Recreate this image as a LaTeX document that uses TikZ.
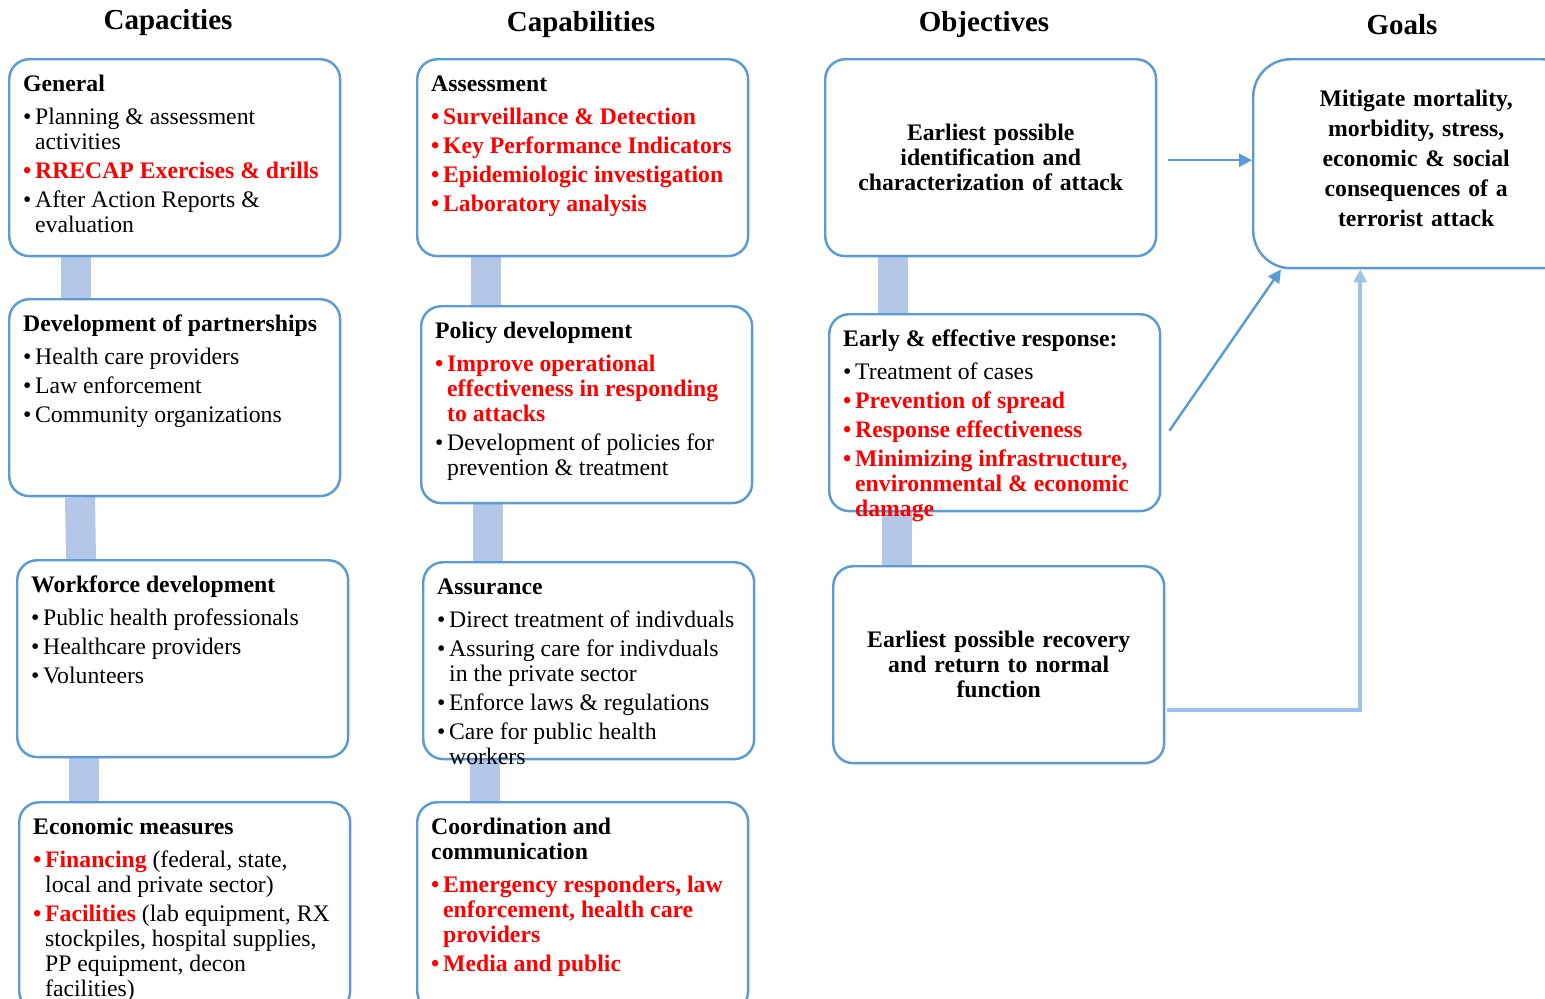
\documentclass[tikz,border=0pt]{standalone}
\usepackage{fontspec}
\setmainfont{Liberation Serif}
\usetikzlibrary{arrows.meta, backgrounds}
\definecolor{boxblue}{HTML}{5B9BD5}
\definecolor{barblue}{HTML}{B4C7E7}
\definecolor{linkblue}{HTML}{9DC3E6}
\definecolor{hired}{HTML}{FF0000}

\newcommand{\bul}{\makebox[6.8pt][l]{\textbullet}}
\newcommand{\ind}{\hspace*{6.8pt}}
\newcommand{\hl}[1]{\textcolor{hired}{\textbf{#1}}}
\newcommand{\boxbody}[2][3.36cm]{%
  \parbox[t][#1][t]{6.06cm}{\raggedright\rule{0pt}{10pt}#2}}

\begin{document}
\begin{tikzpicture}[
  x=0.02cm, y=-0.02cm,
  >={Triangle[length=0.26cm, width=0.26cm]},
  every node/.style={text=black},
  heading/.style={font=\fontsize{16.5}{18}\selectfont\bfseries},
  listbox/.style={
    rectangle, rounded corners=0.4cm,
    draw=boxblue, line width=1.4pt, fill=white,
    anchor=north west,
    inner xsep=0.28cm, inner ysep=0.289cm,
    font=\fontsize{13.5}{14.2}\selectfont
  },
  objbox/.style={
    rectangle, rounded corners=0.4cm,
    draw=boxblue, line width=1.4pt, fill=white,
    anchor=north west,
    minimum width=6.62cm, minimum height=3.94cm,
    text width=5.8cm, align=center,
    font=\fontsize{13.5}{14.2}\selectfont\bfseries
  },
  goalbox/.style={
    rectangle, rounded corners=0.75cm,
    draw=boxblue, line width=1.4pt, fill=white,
    anchor=north west,
    minimum width=6.52cm, minimum height=4.18cm,
    text width=5.6cm, align=center,
    font=\fontsize{13.5}{17}\selectfont\bfseries
  },
  bar/.style={draw=barblue, line width=0.6cm},
  link/.style={->, draw=boxblue, line width=1.4pt},
  backlink/.style={->, draw=linkblue, line width=2.3pt}
]

\useasboundingbox (0,0) rectangle (1545,998);

% ── Column headings ───────────────────────────────────────────────────────
\node[heading] (hcap)  at (168,23)  {Capacities};
\node[heading] (hcapb) at (581,25)  {Capabilities};
\node[heading] (hobj)  at (984,25)  {Objectives};
\node[heading] (hgoal) at (1402,25) {Goals};

% ── Capacities ────────────────────────────────────────────────────────────
\node[listbox] (gen) at (8,58) {\boxbody{%
    \textbf{General}\\[5pt]
    \bul Planning \& assessment\\
    \ind activities\\[2.3pt]
    \hl{\bul RRECAP Exercises \& drills}\\[2.3pt]
    \bul After Action Reports \&\\
    \ind evaluation}};

\node[listbox] (dev) at (8,298) {\boxbody{%
    \textbf{Development of partnerships}\\[5pt]
    \bul Health care providers\\[2.3pt]
    \bul Law enforcement\\[2.3pt]
    \bul Community organizations}};

\node[listbox] (wf) at (16,559) {\boxbody{%
    \textbf{Workforce development}\\[5pt]
    \bul Public health professionals\\[2.3pt]
    \bul Healthcare providers\\[2.3pt]
    \bul Volunteers}};

\node[listbox] (econ) at (18,801) {\boxbody[3.6cm]{%
    \textbf{Economic measures}\\[5pt]
    \hl{\bul Financing} (federal, state,\\
    \ind local and private sector)\\[2.3pt]
    \hl{\bul Facilities} (lab equipment, RX\\
    \ind stockpiles, hospital supplies,\\
    \ind PP equipment, decon\\
    \ind facilities)}};

% ── Capabilities ──────────────────────────────────────────────────────────
\node[listbox] (assess) at (416,58) {\boxbody{%
    \textbf{Assessment}\\[5pt]
    \hl{\bul Surveillance \& Detection}\\[2.3pt]
    \hl{\bul Key Performance Indicators}\\[2.3pt]
    \hl{\bul Epidemiologic investigation}\\[2.3pt]
    \hl{\bul Laboratory analysis}}};

\node[listbox] (policy) at (420,305) {\boxbody{%
    \textbf{Policy development}\\[5pt]
    \hl{\bul Improve operational\\
        \ind effectiveness in responding\\
        \ind to attacks}\\[2.3pt]
    \bul Development of policies for\\
    \ind prevention \& treatment}};

\node[listbox] (assur) at (422,561) {\boxbody{%
    \textbf{Assurance}\\[5pt]
    \bul Direct treatment of indivduals\\[2.3pt]
    \bul Assuring care for indivduals\\
    \ind in the private sector\\[2.3pt]
    \bul Enforce laws \& regulations\\[2.3pt]
    \bul Care for public health\\
    \ind workers}};

\node[listbox] (coord) at (416,801) {\boxbody[3.6cm]{%
    \textbf{Coordination and\\communication}\\[5pt]
    \hl{\bul Emergency responders, law\\
        \ind enforcement, health care\\
        \ind providers}\\[2.3pt]
    \hl{\bul Media and public}}};

% ── Objectives ────────────────────────────────────────────────────────────
\node[objbox] (obj1) at (824,58)
  {Earliest possible\\identification and\\characterization of attack};

\node[listbox] (resp) at (828,313) {\boxbody{%
    \textbf{Early \& effective response:}\\[5pt]
    \bul Treatment of cases\\[2.3pt]
    \hl{\bul Prevention of spread}\\[2.3pt]
    \hl{\bul Response effectiveness}\\[2.3pt]
    \hl{\bul Minimizing infrastructure,\\
        \ind environmental \& economic\\
        \ind damage}}};

\node[objbox] (rec) at (832,565)
  {Earliest possible recovery\\and return to normal\\function};

% ── Goal ──────────────────────────────────────────────────────────────────
\node[goalbox] (goal) at (1252,58)
  {Mitigate mortality,\\morbidity, stress,\\economic \& social\\consequences of a\\terrorist attack\rule[-6pt]{0pt}{6pt}};

% ── Bars between boxes ────────────────────────────────────────────────────
\begin{scope}[on background layer]
  \draw[bar] ([shift={(68,0)}]gen.south west)    -- ([shift={(68,0)}]dev.north west);
  \draw[bar] ([shift={(72,0)}]dev.south west)    -- ([shift={(65,0)}]wf.north west);
  \draw[bar] ([shift={(68,0)}]wf.south west)     -- ([shift={(66,0)}]econ.north west);
  \draw[bar] ([shift={(70,0)}]assess.south west) -- ([shift={(66,0)}]policy.north west);
  \draw[bar] ([shift={(68,0)}]policy.south west) -- ([shift={(66,0)}]assur.north west);
  \draw[bar] ([shift={(63,0)}]assur.south west)  -- ([shift={(69,0)}]coord.north west);
  \draw[bar] ([shift={(69,0)}]obj1.south west)   -- ([shift={(65,0)}]resp.north west);
  \draw[bar] ([shift={(69,0)}]resp.south west)   -- ([shift={(65,0)}]rec.north west);
\end{scope}

% ── Arrows to the goal ────────────────────────────────────────────────────
\draw[link, shorten <=0.22cm] ([yshift=-0.05cm]obj1.east) -- ([yshift=-0.05cm]obj1.east -| goal.west);
\draw[link] ([shift={(8,18)}]resp.east) -- ([shift={(29,0)}]goal.south west);
\draw[backlink] ([shift={(2,45)}]rec.east) -| ([shift={(-56,0)}]goal.south);

\end{tikzpicture}
\end{document}
